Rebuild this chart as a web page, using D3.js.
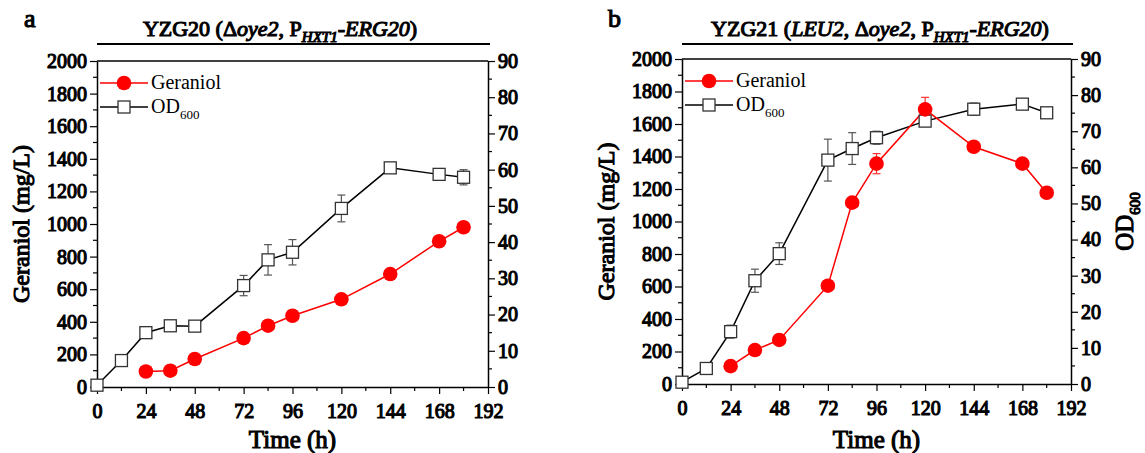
<!DOCTYPE html>
<html>
<head>
<meta charset="utf-8">
<script src="https://cdn.jsdelivr.net/npm/d3@7"></script>
<style>
  body { margin: 0; background: #fff; }
  .bold { stroke: #000; stroke-width: 1.1px; paint-order: fill; }
</style>
</head>
<body>
<div class="chart"></div>
<script>
// sampling times (h)
const timeGer = [24, 36, 48, 72, 84, 96, 120, 144, 168, 180];
const timeOD = [0, 12, 24, 36, 48, 72, 84, 96, 120, 144, 168, 180];

// panel a: YZG20
const gerA = [95, 100, 172, 300, 376, 437, 538, 693, 894, 980];
const gerErrA = [10, 10, 12, 15, 15, 15, 15, 15, 20, 25];
const odA = [0.5, 7.3, 15.0, 16.9, 16.8, 28.0, 35.1, 37.2, 49.3, 60.5, 58.7, 57.9];
const odErrA = [0.3, 1.1, 1.0, 0.8, 0.5, 2.8, 4.2, 3.5, 3.7, 1.2, 0.5, 2.1];

// panel b: YZG21
const gerB = [110, 209, 271, 605, 1116, 1356, 1690, 1460, 1356, 1177];
const gerErrB = [10, 10, 12, 15, 25, 62, 74, 15, 15, 15];
const odB = [0.5, 4.3, 14.5, 28.6, 36.1, 62.0, 65.2, 68.2, 72.8, 76.1, 77.5, 75.1];
const odErrB = [0.3, 1.4, 1.8, 3.2, 3.0, 5.8, 4.4, 1.8, 0.8, 1.7, 1.5, 1.0];

const xTicks = [0, 24, 48, 72, 96, 120, 144, 168, 192];
const leftTicks = [0, 200, 400, 600, 800, 1000, 1200, 1400, 1600, 1800, 2000];
const rightTicks = [0, 10, 20, 30, 40, 50, 60, 70, 80, 90];

const serif = "'Liberation Serif', 'Times New Roman', serif";

const svg = d3.select(".chart").append("svg")
  .attr("width", 1145).attr("height", 453)
  .style("font-family", serif).style("font-weight", "normal");

function drawPanel(opt) {
  let x = d3.scaleLinear().domain([0, 192]).range([opt.left, opt.right]);
  let yL = d3.scaleLinear().domain([0, 2000]).range([opt.bottom, opt.top]);
  let yR = d3.scaleLinear().domain([0, 90]).range([opt.bottom, opt.top]);
  let g = svg.append("g");

  // frame top line
  g.append("line").attr("x1", opt.left).attr("x2", opt.right)
    .attr("y1", opt.top).attr("y2", opt.top)
    .attr("stroke", "#000").attr("stroke-width", 1.5);

  // bottom axis
  let xAxis = g.append("g").attr("transform", "translate(0," + opt.bottom + ")")
    .call(d3.axisBottom(x).tickValues(xTicks).tickFormat(d3.format("d")).tickSize(7).tickSizeOuter(0));
  xAxis.append("g").selectAll("line").data(d3.range(12, 192, 24)).join("line")
    .attr("x1", d => x(d)).attr("x2", d => x(d)).attr("y1", 0).attr("y2", 4)
    .attr("stroke", "#000");
  xAxis.selectAll("text").attr("dy", "1.05em");

  // left axis
  let lAxis = g.append("g").attr("transform", "translate(" + opt.left + ",0)")
    .call(d3.axisLeft(yL).tickValues(leftTicks).tickFormat(d3.format("d")).tickSize(7).tickSizeOuter(0));
  lAxis.append("g").selectAll("line").data(d3.range(100, 2000, 200)).join("line")
    .attr("y1", d => yL(d)).attr("y2", d => yL(d)).attr("x1", 0).attr("x2", -4)
    .attr("stroke", "#000");

  // right axis
  let rAxis = g.append("g").attr("transform", "translate(" + opt.right + ",0)")
    .call(d3.axisRight(yR).tickValues(rightTicks).tickFormat(d3.format("d")).tickSize(7).tickSizeOuter(0));
  rAxis.append("g").selectAll("line").data(d3.range(5, 90, 10)).join("line")
    .attr("y1", d => yR(d)).attr("y2", d => yR(d)).attr("x1", 0).attr("x2", 4)
    .attr("stroke", "#000");

  [xAxis, lAxis, rAxis].forEach(a => {
    a.attr("font-family", null).attr("font-size", null);
    a.select(".domain").attr("stroke-width", 1.5);
    a.selectAll("line").attr("stroke-width", 1.2);
    a.selectAll("text").attr("class", "bold").style("font-size", "20px").style("font-family", serif)
      .attr("fill", "#000");
  });

  // axis titles
  g.append("text").attr("class", "bold").attr("x", (opt.left + opt.right) / 2).attr("y", 448)
    .attr("text-anchor", "middle").style("font-size", "25px").text("Time (h)");
  g.append("text").attr("class", "bold").attr("transform", "translate(" + (opt.left - 68) + "," + ((opt.top + opt.bottom) / 2) + ") rotate(-90)")
    .attr("text-anchor", "middle").style("font-size", "24px").text("Geraniol (mg/L)");
  if (opt.rightLabel) {
    let t = g.append("text").attr("class", "bold").attr("transform", "translate(" + (opt.right + 62) + "," + ((opt.top + opt.bottom) / 2) + ") rotate(-90)")
      .attr("text-anchor", "middle").style("font-size", "25px");
    t.append("tspan").text("OD");
    t.append("tspan").style("font-size", "15px").attr("dy", 7).text("600");
  }

  // panel letter and title
  g.append("text").attr("class", "bold").attr("x", opt.letterX).attr("y", 27).style("font-size", "26px").text(opt.letter);
  let title = g.append("text").attr("class", "bold").attr("x", opt.titleX).attr("y", 36)
    .attr("text-anchor", "middle").style("font-size", "22px");
  opt.title.forEach(p => {
    let s = title.append("tspan").text(p.t);
    if (p.i) s.style("font-style", "italic");
    if (p.sub) s.style("font-size", "15px").attr("dy", 6);
    if (p.up) s.attr("dy", -6);
  });
  g.append("line").attr("x1", opt.left).attr("x2", opt.right + 2)
    .attr("y1", 44).attr("y2", 44).attr("stroke", "#000").attr("stroke-width", 2);

  // OD series
  let odLine = d3.line().x((d, i) => x(timeOD[i])).y(d => yR(d));
  g.append("path").datum(opt.od).attr("fill", "none").attr("stroke", "#000")
    .attr("stroke-width", 1.5).attr("d", odLine);
  let odErr = g.append("g").attr("stroke", "#555").attr("stroke-width", 1.2);
  opt.od.forEach((v, i) => {
    let cx = x(timeOD[i]), y1 = yR(v - opt.odErr[i]), y2 = yR(v + opt.odErr[i]);
    odErr.append("line").attr("x1", cx).attr("x2", cx).attr("y1", y1).attr("y2", y2);
    odErr.append("line").attr("x1", cx - 4).attr("x2", cx + 4).attr("y1", y1).attr("y2", y1);
    odErr.append("line").attr("x1", cx - 4).attr("x2", cx + 4).attr("y1", y2).attr("y2", y2);
  });

  // geraniol series
  let gerLine = d3.line().x((d, i) => x(timeGer[i])).y(d => yL(d));
  g.append("path").datum(opt.ger).attr("fill", "none").attr("stroke", "#ff0000")
    .attr("stroke-width", 1.5).attr("d", gerLine);
  let gerErr = g.append("g").attr("stroke", "#ff3030").attr("stroke-width", 1.2);
  opt.ger.forEach((v, i) => {
    let cx = x(timeGer[i]), y1 = yL(v - opt.gerErr[i]), y2 = yL(v + opt.gerErr[i]);
    gerErr.append("line").attr("x1", cx).attr("x2", cx).attr("y1", y1).attr("y2", y2);
    gerErr.append("line").attr("x1", cx - 4).attr("x2", cx + 4).attr("y1", y1).attr("y2", y1);
    gerErr.append("line").attr("x1", cx - 4).attr("x2", cx + 4).attr("y1", y2).attr("y2", y2);
  });

  g.selectAll(".sq").data(opt.od).join("rect").attr("class", "sq")
    .attr("x", (d, i) => x(timeOD[i]) - 6).attr("y", d => yR(d) - 6)
    .attr("width", 12).attr("height", 12)
    .attr("fill", "#fff").attr("stroke", "#333").attr("stroke-width", 1.3);
  g.selectAll(".dot").data(opt.ger).join("circle").attr("class", "dot")
    .attr("cx", (d, i) => x(timeGer[i])).attr("cy", d => yL(d)).attr("r", 7.3)
    .attr("fill", "#ff0000");

  // legend
  let lx = opt.left + 3, ly1 = opt.top + 22, ly2 = opt.top + 46;
  g.append("line").attr("x1", lx).attr("x2", lx + 48).attr("y1", ly1).attr("y2", ly1)
    .attr("stroke", "#ff0000").attr("stroke-width", 1.5);
  g.append("circle").attr("cx", lx + 24).attr("cy", ly1).attr("r", 7.3).attr("fill", "#ff0000");
  g.append("text").attr("x", lx + 51).attr("y", ly1 + 6).style("font-size", "20px").text("Geraniol");
  g.append("line").attr("x1", lx).attr("x2", lx + 48).attr("y1", ly2).attr("y2", ly2)
    .attr("stroke", "#000").attr("stroke-width", 1.5);
  g.append("rect").attr("x", lx + 18).attr("y", ly2 - 6).attr("width", 12).attr("height", 12)
    .attr("fill", "#fff").attr("stroke", "#333").attr("stroke-width", 1.3);
  let od = g.append("text").attr("x", lx + 51).attr("y", ly2 + 6).style("font-size", "20px");
  od.append("tspan").text("OD");
  od.append("tspan").style("font-size", "13px").attr("dy", 6).text("600");
}

drawPanel({
  left: 97, right: 488, top: 61, bottom: 387, letter: "a", letterX: 24, titleX: 280, rightLabel: false,
  ger: gerA, gerErr: gerErrA, od: odA, odErr: odErrA,
  title: [{t: "YZG20 (Δ"}, {t: "oye2", i: true}, {t: ", P"}, {t: "HXT1", i: true, sub: true},
          {t: "-", up: true}, {t: "ERG20", i: true}, {t: ")"}]
});
drawPanel({
  left: 682, right: 1071, top: 59, bottom: 384, letter: "b", letterX: 608, titleX: 880, rightLabel: true,
  ger: gerB, gerErr: gerErrB, od: odB, odErr: odErrB,
  title: [{t: "YZG21 ("}, {t: "LEU2", i: true}, {t: ", Δ"}, {t: "oye2", i: true}, {t: ", P"},
          {t: "HXT1", i: true, sub: true}, {t: "-", up: true}, {t: "ERG20", i: true}, {t: ")"}]
});
</script>
</body>
</html>
